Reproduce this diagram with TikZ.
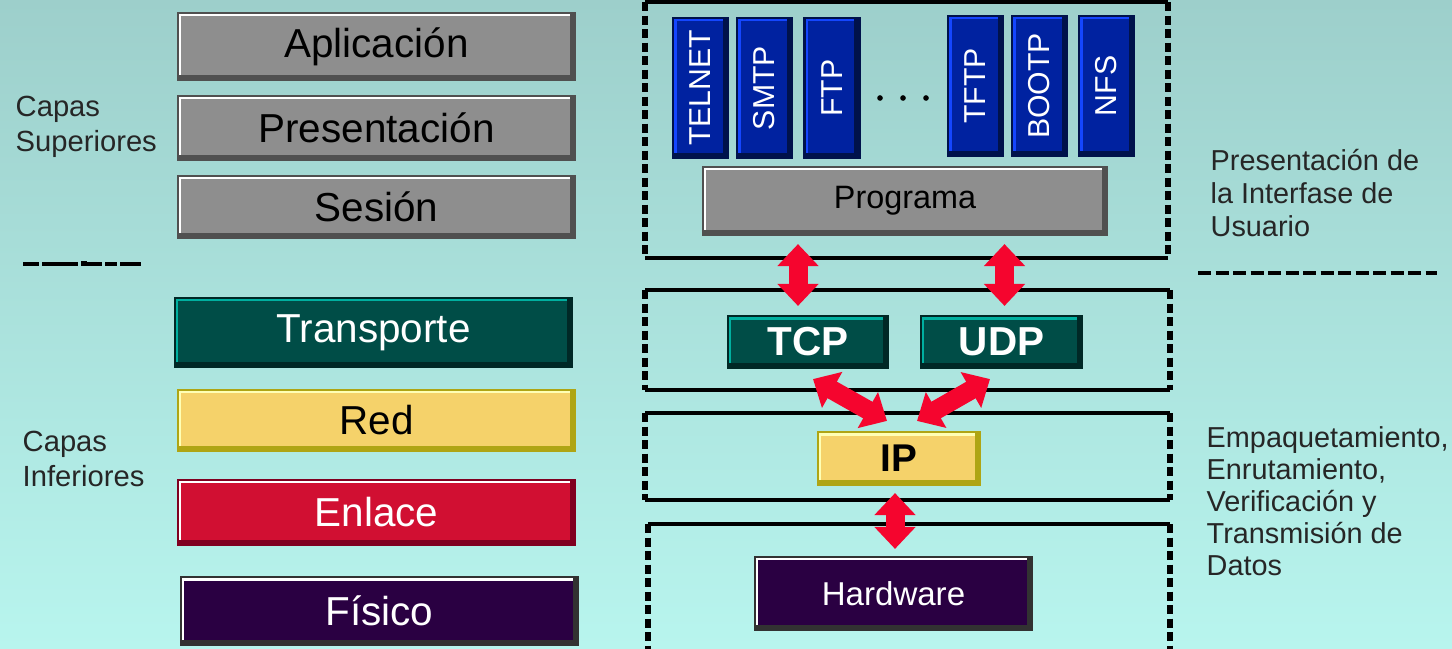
\documentclass[tikz,border=0pt]{standalone}
\usepackage{fontspec}
\setmainfont{Liberation Sans}
\usetikzlibrary{arrows.meta}

\definecolor{fondoarriba}{RGB}{157,207,203}
\definecolor{fondoabajo}{RGB}{184,245,238}
\definecolor{gris}{RGB}{142,142,142}
\definecolor{grisoscuro}{RGB}{80,80,80}
\definecolor{azul}{RGB}{0,34,160}
\definecolor{azulclaro}{RGB}{20,70,255}
\definecolor{azuloscuro}{RGB}{0,18,75}
\definecolor{verde}{RGB}{0,77,71}
\definecolor{verdeclaro}{RGB}{0,176,160}
\definecolor{verdeoscuro}{RGB}{0,40,38}
\definecolor{amarillo}{RGB}{245,210,106}
\definecolor{amarilloclaro}{RGB}{255,255,180}
\definecolor{amarillooscuro}{RGB}{175,165,20}
\definecolor{rojo}{RGB}{209,15,50}
\definecolor{rojooscuro}{RGB}{128,0,32}
\definecolor{morado}{RGB}{42,0,66}
\definecolor{moradooscuro}{RGB}{50,50,50}
\definecolor{flecharoja}{RGB}{245,5,46}

\newcommand{\marco}[4]{%
	\draw[line width = 0.9pt] (#1,#2) -- (#3,#2);
	\draw[line width = 0.9pt] (#1,#4) -- (#3,#4);
	\draw[lado] (#1,#2) -- (#1,#4);
	\draw[lado] (#3,#2) -- (#3,#4);
}

\begin{document}
\begin{tikzpicture}[x = 0.01cm, y = -0.01cm,
	capa/.style n args = {3}{fill = #1, draw = #3, line width = 0.6pt, inner sep = 0pt,
		path picture = {
			\draw[#2, line width = 2pt] (path picture bounding box.south west) -- (path picture bounding box.north west) -- (path picture bounding box.north east);
			\draw[#3, line width = 3pt] (path picture bounding box.south west) -- (path picture bounding box.south east) -- (path picture bounding box.north east);
		}},
	nivel/.style = {minimum width = 3.97cm, font = \fontsize{11.5}{13}\selectfont},
	proto/.style = {capa = {azul}{azulclaro}{azuloscuro}, rotate = 90, minimum width = 1.4cm, minimum height = 0.55cm, text = white, font = \fontsize{8.6}{10}\selectfont},
	lado/.style = {line width = 1.5pt, dash pattern = on 0.09cm off 0.045cm},
	flecha/.style = {draw = flecharoja, line width = 0.19cm, {Triangle[width = 0.4cm, length = 0.22cm]}-{Triangle[width = 0.4cm, length = 0.22cm]}},
	nota/.style = {anchor = west, align = left, inner sep = 0pt, text = black!85}]

		% fondo
		\shade[top color = fondoarriba, bottom color = fondoabajo] (0,0) rectangle (1452,649);
		\useasboundingbox (0,0) rectangle (1452,649);

		% modelo OSI
		\node[capa = {gris}{white}{grisoscuro}, nivel, minimum height = 0.67cm] (apl) at (376.5,46.5) {Aplicación};
		\node[capa = {gris}{white}{grisoscuro}, nivel, minimum height = 0.64cm] (pres) at (376.5,128) {Presentación};
		\node[capa = {gris}{white}{grisoscuro}, nivel, minimum height = 0.62cm] (ses) at (376.5,207) {Sesión};
		\node[capa = {verde}{verdeclaro}{verdeoscuro}, nivel, minimum height = 0.69cm, text = white] (trans) at (373.5,332.5) {Transporte};
		\node[capa = {amarillo}{amarilloclaro}{amarillooscuro}, nivel, minimum height = 0.61cm] (red) at (376.5,420.5) {Red};
		\node[capa = {rojo}{white}{rojooscuro}, nivel, minimum height = 0.65cm, text = white] (enl) at (376.5,512.5) {Enlace};
		\node[capa = {morado}{white}{moradooscuro}, nivel, minimum height = 0.68cm, text = white] (fis) at (379.5,611) {Físico};

		\node[nota, font = \fontsize{8.3}{9.9}\selectfont] (sup) at (15,127) {Capas\\Superiores};
		\node[nota, font = \fontsize{8.3}{9.9}\selectfont] (inf) at (22,459) {Capas\\Inferiores};
		\draw[line width = 1pt, dash pattern = on 0.16cm off 0.03cm on 0.36cm off 0.03cm on 0.21cm off 0.03cm on 0.12cm off 0.03cm on 0.21cm off 0.03cm] (23,264) -- (141,264);
		\fill (81,261) rectangle (87,264);

		% TCP/IP
		\marco{645}{2}{1168}{258}
		\marco{645}{290}{1170}{390}
		\marco{645}{413}{1170}{500}
		\marco{648}{524}{1170}{660}

		\node[proto] (telnet) at (700.5,88) {TELNET};
		\node[proto] (smtp) at (764.5,88) {SMTP};
		\node[proto] (ftp) at (832,88) {FTP};
		\node[proto] (tftp) at (975.5,86) {TFTP};
		\node[proto] (bootp) at (1039.5,86) {BOOTP};
		\node[proto] (nfs) at (1106.5,86) {NFS};
		\foreach \x in {880,903,926} \fill (\x,98) circle (0.8pt);

		\node[capa = {gris}{white}{grisoscuro}, minimum width = 4.04cm, minimum height = 0.68cm, font = \fontsize{9.2}{11}\selectfont] (prog) at (905,201) {Programa};
		\node[capa = {verde}{verdeclaro}{verdeoscuro}, minimum width = 1.6cm, minimum height = 0.52cm, text = white, font = \bfseries\fontsize{11.5}{13}\selectfont] (tcp) at (808,342) {TCP};
		\node[capa = {verde}{verdeclaro}{verdeoscuro}, minimum width = 1.61cm, minimum height = 0.52cm, text = white, font = \bfseries\fontsize{11.5}{13}\selectfont] (udp) at (1001.5,342) {UDP};
		\node[capa = {amarillo}{amarilloclaro}{amarillooscuro}, minimum width = 1.62cm, minimum height = 0.53cm, font = \bfseries\fontsize{11}{13}\selectfont] (ip) at (899,458.5) {IP};
		\node[capa = {morado}{white}{moradooscuro}, minimum width = 2.77cm, minimum height = 0.73cm, text = white, font = \fontsize{9.4}{11}\selectfont] (hw) at (893.5,593.5) {Hardware};

		\draw[flecha, shorten <= 0.08cm, shorten >= 0.09cm] ([xshift = -0.1cm]tcp.north |- prog.south) -- ([xshift = -0.1cm]tcp.north);
		\draw[flecha, shorten <= 0.08cm, shorten >= 0.09cm] ([xshift = 0.03cm]udp.north |- prog.south) -- ([xshift = 0.03cm]udp.north);
		\draw[flecha] ([shift = {(0.05cm,-0.1cm)}]tcp.south) -- ([shift = {(-0.12cm,0.1cm)}]ip.north);
		\draw[flecha] ([shift = {(-0.115cm,-0.1cm)}]udp.south) -- ([shift = {(0.18cm,0.1cm)}]ip.north);
		\draw[flecha, shorten <= 0.07cm, shorten >= 0.07cm] ([xshift = -0.04cm]ip.south) -- ([xshift = -0.04cm]ip.south |- hw.north);

		\node[nota, font = \fontsize{8.2}{9.35}\selectfont] (usuario) at (1210,193) {Presentación de\\la Interfase de\\Usuario};
		\draw[line width = 0.9pt, dash pattern = on 0.13cm off 0.045cm] (1198,273) -- (1437,273);
		\node[nota, font = \fontsize{8.2}{9.1}\selectfont] (datos) at (1206,501) {Empaquetamiento,\\Enrutamiento,\\Verificación y\\Transmisión de\\Datos};
	\end{tikzpicture}
\end{document}
